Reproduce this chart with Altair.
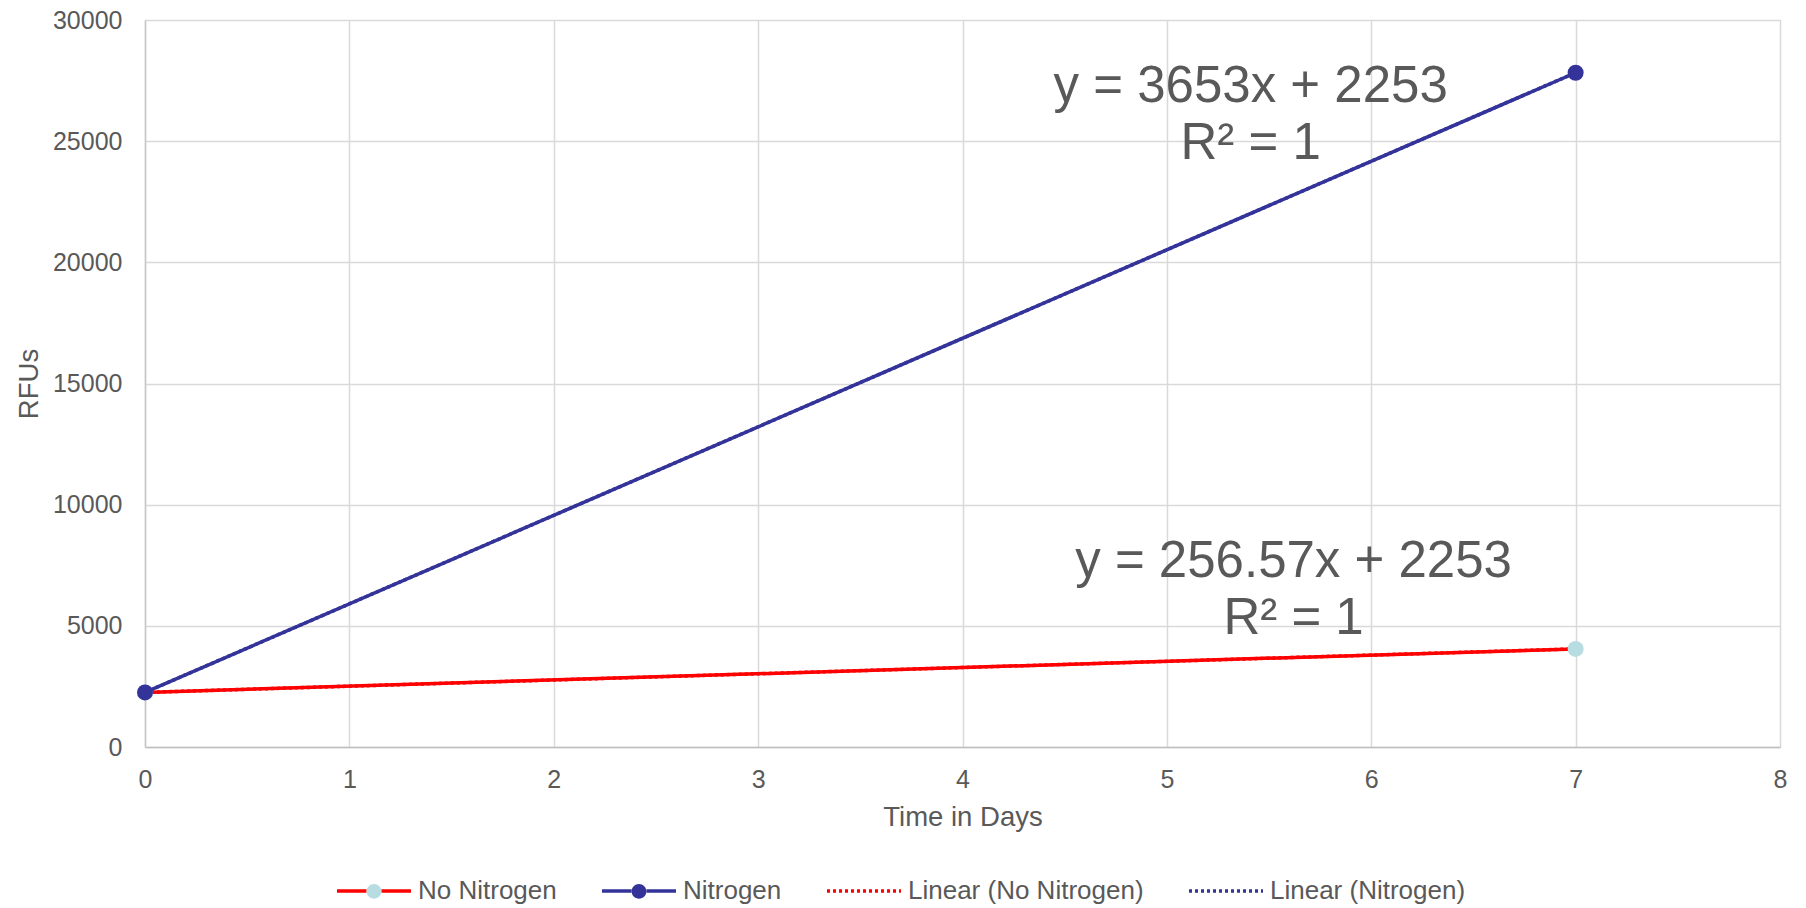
import altair as alt
import pandas as pd

# ---- data ----
series_names = ["No Nitrogen", "Nitrogen"]
days = [0, 7]
rfu_no_nitrogen = [2253, 4049]
rfu_nitrogen = [2253, 27824]
trend_names = ["Linear (No Nitrogen)", "Linear (Nitrogen)"]
equations = ["y = 256.57x + 2253\nR² = 1", "y = 3653x + 2253\nR² = 1"]
eq_day = [5.62, 5.41]
eq_rfu = [7000, 26616]
x_ticks = [0, 1, 2, 3, 4, 5, 6, 7, 8]
y_ticks = [0, 5000, 10000, 15000, 20000, 25000, 30000]

# ---- styles ----
line_colors = ["#ff0000", "#333399"]
marker_colors = ["#b7dde3", "#333399"]
GRAY = "#595959"
FONT = "Liberation Sans"
SYM = 5476  # legend symbol: 74 px long

rows = []
for name, vals in zip(series_names, [rfu_no_nitrogen, rfu_nitrogen]):
    for d, v in zip(days, vals):
        rows.append({"series": name, "day": d, "rfu": v})
df = pd.DataFrame(rows)

x_enc = alt.X(
    "day:Q",
    scale=alt.Scale(domain=[0, 8], nice=False, zero=False),
    axis=alt.Axis(
        values=x_ticks, title="Time in Days", format="d",
        grid=True, gridColor="#d9d9d9", gridWidth=1.5,
        domainColor="#bfbfbf", domainWidth=1.5,
        ticks=True, tickSize=0, labelPadding=20, labelFlush=False,
        labelFontSize=25, labelColor=GRAY, labelFont=FONT,
        titleFontSize=27.5, titleFontWeight="normal", titleColor=GRAY, titleFont=FONT,
        titleY=78, titleBaseline="alphabetic",
    ),
)
y_enc = alt.Y(
    "rfu:Q",
    scale=alt.Scale(domain=[0, 30000], nice=False),
    axis=alt.Axis(
        values=y_ticks, title="RFUs", format="d",
        grid=True, gridColor="#d9d9d9", gridWidth=1.5,
        domainColor="#c8c8c8", domainWidth=1.5,
        ticks=True, tickSize=0, labelPadding=23, labelFlush=False,
        labelFontSize=25, labelColor=GRAY, labelFont=FONT,
        titleFontSize=27.5, titleFontWeight="normal", titleColor=GRAY, titleFont=FONT,
        titleX=-108, titleY=363.5, titleAngle=270, titleBaseline="alphabetic", titleAlign="center",
    ),
)

base = alt.Chart(df)
trend_layers = []
series_layers = []
for i, name in enumerate(series_names):
    sub = base.transform_filter(alt.datum.series == name)
    trend_layers.append(
        sub.transform_regression("day", "rfu", extent=[0, 7])
        .mark_line(color=line_colors[i], strokeDash=[3, 3], strokeWidth=3.5)
        .encode(x=x_enc, y=y_enc)
    )
    series_layers.append(
        sub.mark_line(color=line_colors[i], strokeWidth=3.5).encode(x=x_enc, y=y_enc)
    )
    series_layers.append(
        sub.mark_circle(color=marker_colors[i], size=256, opacity=1).encode(x=x_enc, y=y_enc)
    )

eq_df = pd.DataFrame({"label": equations, "day": eq_day, "rfu": eq_rfu})
eq_layer = alt.Chart(eq_df).mark_text(
    fontSize=51, font=FONT, color=GRAY, align="center", baseline="alphabetic",
    lineBreak="\n", lineHeight=57,
).encode(x=x_enc, y=y_enc, text="label:N")

# ---- legend (built from scales; layers carry no marks) ----
all_names = series_names + trend_names
all_line_colors = line_colors + line_colors
dashes = [[1, 0], [1, 0], [3, 3], [3, 3]]
shape_paths = ["M-1,0L-0.2,0M0.2,0L1,0", "M-1,0L-0.2,0M0.2,0L1,0", "M-1,0L1,0", "M-1,0L1,0"]
keys = ["k1", "k2", "k3", "k4"]
marker_fills = marker_colors + ["transparent", "transparent"]
circle_path = "M-1,0L1,0M-0.2,0A0.2,0.2,0,1,0,0.2,0A0.2,0.2,0,1,0,-0.2,0Z"
label_expr = " : ".join(f"datum.value == '{k}' ? '{n}'" for k, n in zip(keys, all_names)) + " : ''"

leg_common = dict(
    orient="none", legendX=190, legendY=832, direction="horizontal", columns=4,
    title=None, symbolSize=SYM, symbolStrokeWidth=3.5,
    labelFontSize=26, labelFont=FONT, labelColor=GRAY, labelOffset=5,
    columnPadding=38, labelLimit=600,
)
legend_a = alt.Legend(**leg_common)
legend_b = alt.Legend(labelOpacity=0, labelExpr=label_expr, symbolType=circle_path,
                      symbolStrokeColor="transparent", **leg_common)

leg_df = pd.DataFrame({"series": all_names, "key": keys})
legend_lines = alt.Chart(leg_df).transform_filter("false").mark_point(
    filled=False, size=SYM, strokeWidth=3.5, opacity=1
).encode(
    stroke=alt.Stroke("series:N", scale=alt.Scale(domain=all_names, range=all_line_colors), legend=legend_a),
    strokeDash=alt.StrokeDash("series:N", scale=alt.Scale(domain=all_names, range=dashes), legend=legend_a),
    shape=alt.Shape("series:N", scale=alt.Scale(domain=all_names, range=shape_paths), legend=legend_a),
)
legend_markers = alt.Chart(leg_df).transform_filter("false").mark_point(
    filled=True, size=SYM, shape=circle_path, opacity=1
).encode(
    fill=alt.Fill("key:N", scale=alt.Scale(domain=keys, range=marker_fills), legend=legend_b),
)

chart = alt.layer(
    *trend_layers, *series_layers, eq_layer, legend_lines, legend_markers
).properties(
    width=1635, height=727,
    padding={"left": 145, "top": 20, "right": 26, "bottom": 161},
    autosize=alt.AutoSizeParams(type="none"),
    background="white",
).configure_view(stroke=None).configure(font=FONT)

chart.save("out.html", embed_options={"renderer": "svg", "actions": False})
